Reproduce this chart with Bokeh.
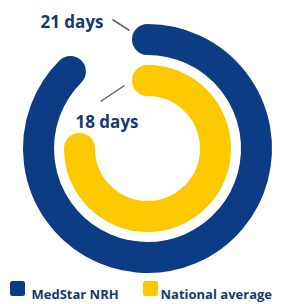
import math
from bokeh.plotting import figure
from bokeh.models import Range1d
from bokeh.core.properties import value
from bokeh.embed import file_html
from bokeh.resources import INLINE

# ---- data ----
series = ["MedStar NRH", "National average"]
days = [21, 18]
scale_max = 24
labels = ["21 days", "18 days"]
colors = ["#0c3c84", "#fcc800"]
text_color = "#163a6e"
leader_color = "#5a6470"

W, H = 282, 304


def Y(sy):
    # convert screen y (from top of picture) to data y
    return H - sy


p = figure(width=W, height=H,
           x_range=Range1d(0, W), y_range=Range1d(0, H),
           output_backend="svg", toolbar_location=None, min_border=0)
p.axis.visible = False
p.grid.visible = False
p.outline_line_color = None
p.background_fill_color = "white"
p.border_fill_color = "white"

cx, cy = 147, Y(148)
radii = [109, 68]
ring_w = 31

for d, r, c in zip(days, radii, colors):
    start = math.pi / 2
    end = start - 2 * math.pi * d / scale_max
    p.arc(x=[cx], y=[cy], radius=[r], start_angle=[start], end_angle=[end],
          direction="clock", line_color=c, line_width=ring_w, line_cap="round")

# value labels
label_pos = [(40, 21), (75, 121)]
for (lx, ly), t in zip(label_pos, labels):
    p.text(x=[lx], y=[Y(ly)], text=[t], text_font=value("Open Sans"),
           text_font_style="bold", text_font_size="17px", text_color=text_color,
           text_align="left", text_baseline="alphabetic")

# leader lines
leaders = [((112, 19), (129, 30)), ((100, 101), (124, 85))]
for (x0, y0), (x1, y1) in leaders:
    p.segment(x0=[x0], y0=[Y(y0)], x1=[x1], y1=[Y(y1)], line_color=leader_color,
              line_width=1.5)

# legend
leg_sq = [(17, 288), (150, 288)]
leg_tx = [(31, 293), (160, 293)]
for (sx, sy), (tx, ty), name, c in zip(leg_sq, leg_tx, series, colors):
    p.scatter(x=[sx], y=[Y(sy)], marker="square", size=10, fill_color=c,
              line_color=c, line_width=5, line_join="round")
    p.text(x=[tx], y=[Y(ty)], text=[name], text_font=value("Open Sans"),
           text_font_style="bold", text_font_size="13px", text_color=text_color,
           text_align="left", text_baseline="alphabetic")

open("out.html", "w").write(file_html(p, INLINE))
